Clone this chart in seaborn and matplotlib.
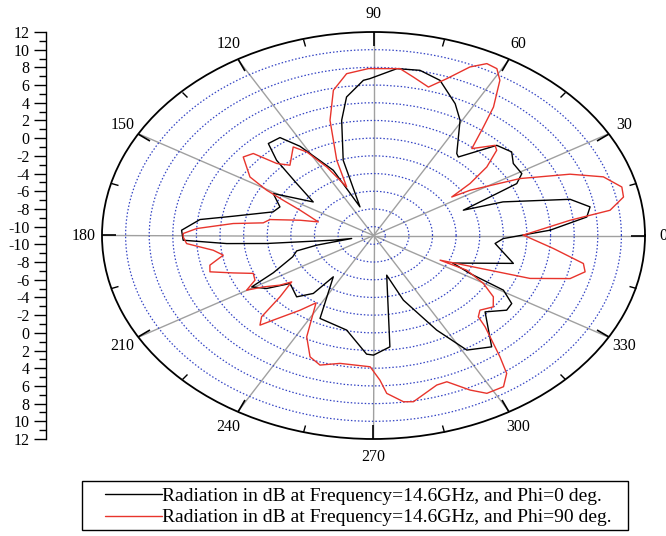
import numpy as np
import matplotlib
matplotlib.use("Agg")
import matplotlib.pyplot as plt
import seaborn as sns
from matplotlib.lines import Line2D
from matplotlib.patches import Rectangle
from matplotlib.ticker import FixedLocator

# pattern data (theta in deg, gain in dB)
black_theta = [2.3, 6.6, 10.0, 13.8, 19.1, 20.6, 24.4, 25.8, 29.1, 34.5,
               38.9, 44.3, 51.0, 52.7, 60.6, 65.1, 72.2, 78.1, 84.0, 91.0,
               92.8, 98.3, 101.7, 106.8, 109.5, 114.8, 121.7, 125.6, 130.6, 134.0,
               137.9, 143.4, 150.8, 157.8, 162.6, 169.6, 173.0, 177.9, 181.9, 184.2,
               185.7, 188.8, 190.4, 192.8, 195.0, 199.4, 206.4, 209.4, 213.5, 217.5,
               226.8, 232.1, 233.9, 244.2, 258.0, 267.5, 270.0, 276.3, 284.0, 289.1,
               296.6, 301.4, 308.5, 317.6, 323.2, 326.7, 330.7, 332.3, 335.1, 345.1,
               355.0, 358.2]
black_r = [3.97, 7.19, 7.63, 6.15, 0.61, -2.87, 0.47, 2.48, 3.38, 3.37,
           4.04, 3.59, 0.42, 0.64, 3.94, 5.43, 7.42, 8.08, 7.96, 6.73,
           6.56, 4.82, 2.30, -2.12, -7.57, -2.88, 0.85, 2.61, 2.69, 0.82,
           -2.23, -4.64, -1.27, -2.44, -2.08, 1.08, 3.81, 5.27, 5.13, 1.47,
           -1.90, -7.55, -9.12, -6.06, -4.26, -3.74, -1.52, 0.84, -0.15, -2.09,
           -1.49, -2.70, -5.22, -0.59, -0.07, 2.42, 2.52, 1.66, -6.38, -3.27,
           0.96, 4.17, 5.08, 1.80, 3.09, 3.01, 1.62, -1.76, -3.60, 1.26,
           -0.66, 0.00]

red_theta = [0.2, 5.9, 8.1, 11.6, 14.6, 18.8, 22.6, 27.4, 32.0, 33.3,
             35.7, 38.9, 42.7, 44.7, 49.7, 52.8, 55.0, 58.6, 61.0, 63.7,
             66.8, 70.7, 74.5, 79.3, 83.2, 91.3, 97.1, 101.7, 105.8, 110.1,
             112.5, 117.1, 120.9, 124.2, 131.7, 135.2, 137.7, 141.2, 147.7, 150.5,
             152.5, 155.3, 161.8, 164.5, 168.4, 171.3, 173.5, 177.0, 179.2, 180.6,
             183.3, 187.0, 189.9, 193.6, 196.5, 199.6, 202.8, 206.7, 209.9, 211.9,
             215.3, 217.1, 221.2, 224.1, 226.5, 228.4, 233.6, 237.4, 243.7, 248.6,
             252.8, 258.9, 268.9, 271.9, 273.6, 277.7, 280.2, 287.6, 290.6, 295.1,
             298.3, 302.8, 305.9, 308.0, 312.5, 314.0, 316.9, 321.5, 325.7, 329.8,
             333.6, 333.7, 339.9, 343.7, 347.1, 349.9, 354.5]
red_r = [1.69, 5.74, 9.24, 10.62, 10.74, 9.57, 7.03, 2.99, -1.35, -3.07,
         -0.93, 1.33, 3.20, 3.49, 1.88, 4.40, 6.72, 9.55, 10.56, 10.67,
         9.72, 7.78, 6.41, 7.22, 7.99, 7.87, 7.43, 5.76, 2.53, -1.94,
         -5.06, -2.30, 0.01, 1.10, -0.36, 0.55, 2.77, 3.16, 1.38, -0.60,
         -2.38, -4.15, -6.08, -4.54, -2.04, -1.55, 0.96, 4.00, 5.12, 5.12,
         4.86, 2.68, 1.92, 3.26, 3.45, 1.61, 0.05, 0.24, 1.40, 0.00,
         -1.29, -2.31, -0.47, 2.20, 2.97, 1.79, -0.51, -1.96, 1.77, 3.73,
         4.33, 3.73, 3.84, 5.35, 6.88, 7.96, 8.09, 6.73, 6.66, 8.29,
         9.26, 9.33, 8.24, 6.40, 2.99, 1.78, 1.35, 1.96, 1.29, -0.23,
         -2.18, -4.71, 3.12, 6.35, 7.39, 7.06, 4.31]

angle_ticks = list(range(0, 360, 30))
ring_values = list(range(-10, 11, 2))
left_labels = ["12", "10", "8", "6", "4", "2", "0", "-2", "-4", "-6", "-8", "-10",
               "-10", "-8", "-6", "-4", "-2", "0", "2", "4", "6", "8", "10", "12"]
labels = ["Radiation in dB at Frequency=14.6GHz, and Phi=0 deg.",
          "Radiation in dB at Frequency=14.6GHz, and Phi=90 deg."]

RED = "#e8342c"

sns.set_style("ticks")
plt.rcParams["font.family"] = ["Liberation Serif", "DejaVu Serif"]
plt.rcParams["text.color"] = "black"
plt.rcParams["xtick.color"] = "black"
plt.rcParams["ytick.color"] = "black"

fig = plt.figure(figsize=(6.66, 5.36), dpi=100)
ax = fig.add_axes([102 / 666, 97 / 536, 543 / 666, 407 / 536], projection="polar")
ax.set_aspect("auto")
ax.set_axisbelow(True)

for th, rr, col in [(black_theta, black_r, "black"), (red_theta, red_r, RED)]:
    t = np.deg2rad(np.append(th, th[0]))
    r = np.append(rr, rr[0])
    sns.lineplot(x=t, y=r, sort=False, estimator=None, color=col, lw=1.0, ax=ax)

ax.set_ylim(-11, 12)
ax.set_yticks(ring_values)
ax.set_yticklabels([])
ax.tick_params(axis="y", length=0)
ax.yaxis.grid(True, color="#3444c4", linestyle=(0, (1.2, 1.6)), linewidth=0.9)

ax.set_xticks(np.deg2rad(angle_ticks))
ax.set_xticklabels([str(a) for a in angle_ticks])
ax.xaxis.set_minor_locator(FixedLocator(np.deg2rad(np.arange(15, 360, 30))))
ax.xaxis.grid(True, color="#a0a0a0", linewidth=1.0, linestyle="-")
# outer ring ticks only (tick1 sits at the centre on a polar axes)
ax.tick_params(axis="x", which="both", bottom=False, top=True,
               labelbottom=True, labeltop=False)
ax.tick_params(axis="x", which="major", direction="in", length=10, width=1.2,
               color="black", pad=6, labelsize=11.5, labelcolor="black")
ax.tick_params(axis="x", which="minor", direction="in", length=5, width=1.0,
               color="black")
ax.spines["polar"].set_color("black")
ax.spines["polar"].set_linewidth(1.3)
ax.set_xlabel("")
ax.set_ylabel("")

# left scale
lax = fig.add_axes([46 / 666, 97 / 536, 0.0001, 407 / 536])
lax.patch.set_visible(False)
lax.set_ylim(0, 23)
lax.set_xticks([])
lax.set_yticks([23 - i for i in range(24)])
lax.set_yticklabels(left_labels)
lax.yaxis.set_minor_locator(FixedLocator(np.arange(0.5, 23, 1)))
for s in ["top", "right", "bottom"]:
    lax.spines[s].set_visible(False)
lax.spines["left"].set_color("black")
lax.spines["left"].set_linewidth(1.0)
lax.tick_params(axis="y", which="both", left=True, right=False)
lax.tick_params(axis="y", which="major", direction="out", length=9, width=1.0,
                color="black", labelsize=11.5, pad=3, labelcolor="black")
lax.tick_params(axis="y", which="minor", direction="out", length=5, width=1.0,
                color="black")

# legend
handles = [Line2D([], [], color="black", lw=1.0), Line2D([], [], color=RED, lw=1.0)]
fig.legend(handles, labels, loc="upper left", bbox_to_anchor=(105 / 666, 1 - 487 / 536),
           frameon=False, fontsize=14, handlelength=2.93, handletextpad=0.0,
           borderpad=0, borderaxespad=0, labelspacing=0.22)
fig.add_artist(Rectangle((82 / 666, 6 / 536), 546 / 666, 49 / 536,
                         transform=fig.transFigure, fill=False,
                         edgecolor="black", lw=1.0))

fig.savefig("out.png", dpi=100)
